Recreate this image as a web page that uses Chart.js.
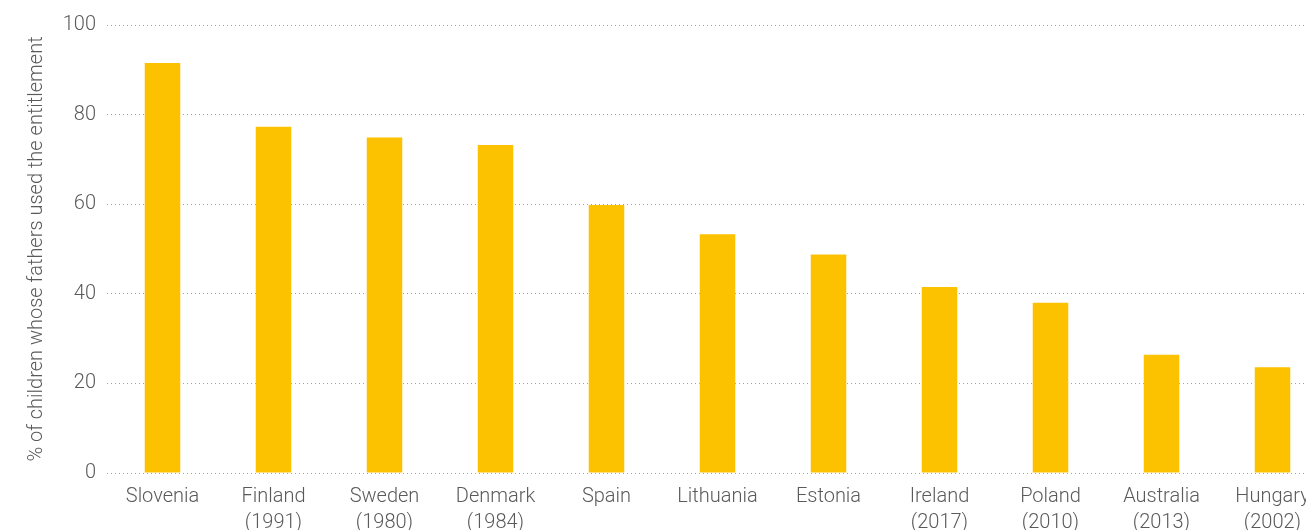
<!DOCTYPE html>
<html>
<head>
<meta charset="utf-8">
<script src="https://cdn.jsdelivr.net/npm/chart.js@4"></script>
<style>
    html, body { margin: 0; padding: 0; background: #fff; overflow: hidden; }
    /* the plot runs a little past the right edge, so the wrapper clips it */
    #frame { width: 1306px; height: 530px; overflow: hidden; position: relative; }
    #box { width: 1332px; height: 558px; position: absolute; left: 0; top: 0; }
</style>
</head>
<body>
<div id="frame">
    <div id="box"><canvas id="chart"></canvas></div>
</div>
<script>
// Countries (year the entitlement was introduced, where given)
const countries = [
    ["Slovenia"],
    ["Finland", "(1991)"],
    ["Sweden", "(1980)"],
    ["Denmark", "(1984)"],
    ["Spain"],
    ["Lithuania"],
    ["Estonia"],
    ["Ireland", "(2017)"],
    ["Poland", "(2010)"],
    ["Australia", "(2013)"],
    ["Hungary", "(2002)"]
];

// % of children whose fathers used the entitlement
const shares = [91.5, 77.3, 74.9, 73.2, 59.8, 53.3, 48.8, 41.5, 38.0, 26.4, 23.6];

const yTicks = [0, 20, 40, 60, 80, 100];

const textColor = "#5a5a5a";
const barColor = "#fcc200";

Chart.defaults.font.family = "Roboto, 'Liberation Sans', sans-serif";
Chart.defaults.font.weight = "300";
Chart.defaults.color = textColor;

const ctx = document.getElementById("chart").getContext("2d");

new Chart(ctx, {
    type: "bar",
    data: {
        labels: countries,
        datasets: [{
            data: shares,
            backgroundColor: barColor,
            borderWidth: 0,
            barPercentage: 0.32,
            categoryPercentage: 1
        }]
    },
    options: {
        responsive: true,
        maintainAspectRatio: false,
        animation: false,
        layout: {
            padding: { left: 18, right: 4, top: 25, bottom: 11 }
        },
        plugins: {
            legend: { display: false },
            tooltip: { enabled: false }
        },
        scales: {
            x: {
                grid: { display: false, drawTicks: false },
                border: { display: false },
                ticks: {
                    padding: 11,
                    maxRotation: 0,
                    autoSkip: false,
                    font: { size: 20, lineHeight: 1.3 }
                }
            },
            y: {
                min: 0,
                max: 100,
                afterBuildTicks: (scale) => {
                    scale.ticks = yTicks.map(v => ({ value: v }));
                },
                afterFit: (scale) => {
                    scale.width = 89;
                },
                grid: {
                    color: "#a0a0a0",
                    lineWidth: 1,
                    drawTicks: false
                },
                border: { display: false, dash: [1, 3] },
                ticks: {
                    padding: 11,
                    font: { size: 20 }
                },
                title: {
                    display: true,
                    text: "% of children whose fathers used the entitlement",
                    font: { size: 20, lineHeight: 1.2 },
                    padding: { top: 7, bottom: 0 }
                }
            }
        }
    }
});
</script>
</body>
</html>
